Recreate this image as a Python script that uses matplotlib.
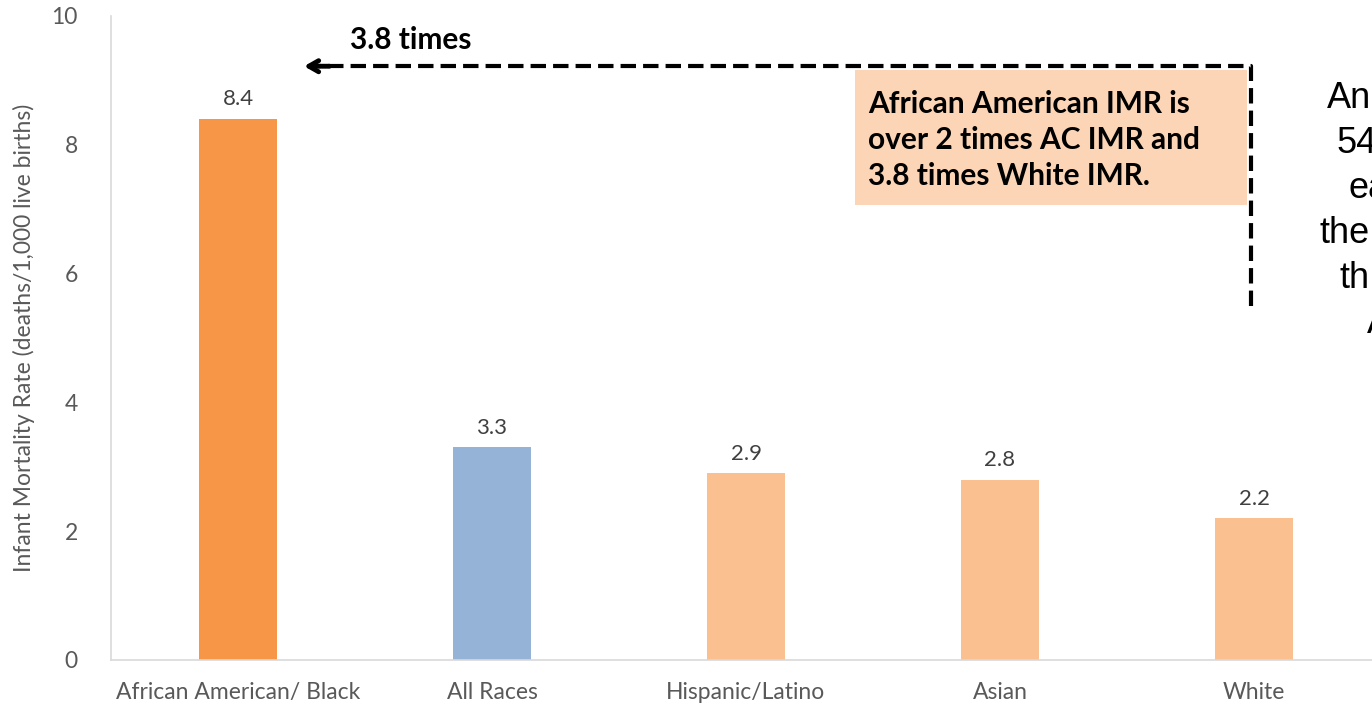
import matplotlib.pyplot as plt
from matplotlib.patches import Rectangle

groups = ['African American/ Black', 'All Races', 'Hispanic/Latino', 'Asian', 'White']
imr = [8.4, 3.3, 2.9, 2.8, 2.2]
bar_colors = ['#F79646', '#95B3D7', '#FAC090', '#FAC090', '#FAC090']
yticks = [0, 2, 4, 6, 8, 10]

side_lines = ['An', '54', 'ea', 'the', 'th', 'A']
side_x = [1327, 1337, 1348, 1320, 1340, 1367]

W, H = 1372, 705
fig = plt.figure(figsize=(W / 100, H / 100), dpi=100)

def px(x, y):
    return x / W, 1 - y / H

# axes box: left spine at x=111, y=0 at 660, y=10 at 16
ax = fig.add_axes([111 / W, (H - 660) / H, 1270 / W, 644 / H])
x = range(len(groups))
ax.bar(x, imr, width=0.31, color=bar_colors)
for xi, v in zip(x, imr):
    ax.annotate(f'{v:.1f}', (xi, v), xytext=(0, 7), textcoords='offset points',
                ha='center', va='bottom', fontsize=16, color='#404040', family='Lato')

ax.set_xlim(-0.5, 4.5)
ax.set_ylim(0, 10)
ax.set_yticks(yticks)
ax.set_xticks(list(x))
ax.set_xticklabels(groups)
ax.tick_params(length=0, labelsize=16.5, colors='#595959')
for lab in ax.get_xticklabels() + ax.get_yticklabels():
    lab.set_family('Lato')
ax.tick_params(axis='x', pad=16)
ax.tick_params(axis='y', pad=24)
ax.set_ylabel('Infant Mortality Rate (deaths/1,000 live births)', fontsize=16.5,
              color='#595959', family='Lato', labelpad=12)
for s in ['top', 'right']:
    ax.spines[s].set_visible(False)
for s in ['left', 'bottom']:
    ax.spines[s].set_color('#D9D9D9')
    ax.spines[s].set_linewidth(1.2)

# dashed elbow connector with arrowhead pointing at the tallest bar
ex, ey, ybot, xtip = 3.99, 9.22, 5.5, 0.26
ax.plot([ex, ex, xtip + 0.05], [ybot, ey, ey], color='black', lw=3,
        linestyle=(0, (3.7, 1.7)), clip_on=False, solid_capstyle='butt')
ax.annotate('', xy=(xtip, ey), xytext=(xtip + 0.1, ey),
            arrowprops=dict(arrowstyle='->,head_length=0.7,head_width=0.4', lw=3.5,
                            color='black', shrinkA=0, shrinkB=0))
fig.text(*px(350, 40), '3.8 times', fontsize=21.5, fontweight='bold', family='Lato',
         va='center', ha='left')

# callout box
x0, y0 = px(855, 205)
x1, y1 = px(1247, 70)
fig.add_artist(Rectangle((x0, y0), x1 - x0, y1 - y0, transform=fig.transFigure,
                         facecolor='#FBD5B5', edgecolor='none'))
fig.text(*px(868, 140), 'African American IMR is\nover 2 times AC IMR and\n3.8 times White IMR.',
         fontsize=21.5, fontweight='bold', family='Lato', va='center', ha='left',
         linespacing=1.33)

# side note running off the right edge
for i, (t, sx) in enumerate(zip(side_lines, side_x)):
    fig.text(*px(sx, 108 + 45 * i), t, fontsize=26, family='Liberation Sans',
             va='baseline', ha='left')

fig.savefig('out.png', dpi=100)
